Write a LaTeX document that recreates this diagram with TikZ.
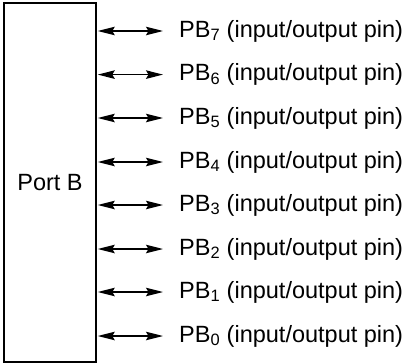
\documentclass[tikz,border=0pt]{standalone}
\usepackage{fontspec}
\setmainfont{Liberation Sans}
\usetikzlibrary{arrows.meta}
\tikzset{
  portbox/.style={draw, line width=1.5pt, minimum width=92pt, minimum height=359pt, inner sep=0pt, font=\fontsize{23.5}{28}\selectfont},
  pinlbl/.style={anchor=west, inner sep=0pt, font=\fontsize{23.5}{28}\selectfont},
  pinarrow/.style={line width=1.4pt, {Stealth[length=17pt,width=8.5pt,inset=2.5pt]}-{Stealth[length=17pt,width=8.5pt,inset=2.5pt]}}
}
\begin{document}
\begin{tikzpicture}
\useasboundingbox (0pt,0pt) rectangle (407pt,-364pt);
\node[portbox] (port) at (50pt,-182.5pt) {Port B};
\foreach \i/\y in {7/31,6/74.6,5/118,4/162,3/205,2/249,1/292,0/336}{
  \node[pinlbl] (pb\i) at (179pt,-\y pt) {PB\textsubscript{\i} (input/output pin)};
  \coordinate (e\i) at ([xshift=-16pt]pb\i.west);
  \draw[pinarrow] ([xshift=1pt]port.east |- e\i) -- (e\i);
}
\end{tikzpicture}
\end{document}
